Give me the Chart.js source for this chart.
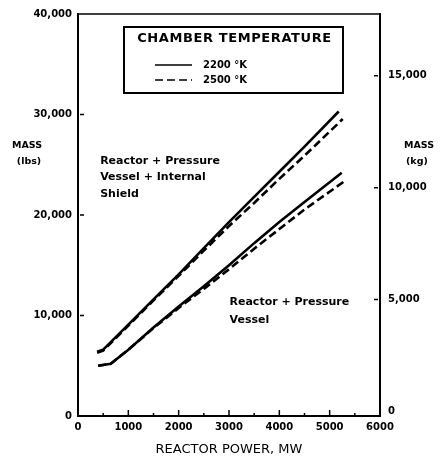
<!DOCTYPE html>
<html>
<head>
<meta charset="utf-8">
<title>Reactor mass vs reactor power</title>
<script src="https://cdn.jsdelivr.net/npm/chart.js@4.4.1/dist/chart.umd.min.js"></script>
<style>
  html, body { margin: 0; padding: 0; background: #fff; }
  #wrap { width: 447px; height: 458px; }
</style>
</head>
<body>
<div id="wrap"><canvas id="mass-chart" width="447" height="458"></canvas></div>
<script>
const powerTicks = [0, 1000, 2000, 3000, 4000, 5000, 6000];
const lbsTicks = [0, 10000, 20000, 30000, 40000];
const kgTicks = [0, 5000, 10000, 15000];

const tempLabels = ["2200 °K", "2500 °K"];

// Reactor + Pressure Vessel + Internal Shield
const shieldPower2200 = [380, 500, 1000, 1500, 2000, 2500, 3000, 3500, 4000, 4500, 5180];
const shieldMass2200 = [6400, 6600, 9100, 11600, 14100, 16700, 19300, 21800, 24300, 26800, 30300];
const shieldPower2500 = [380, 500, 1000, 1500, 2000, 2500, 3000, 3500, 4000, 4500, 5260];
const shieldMass2500 = [6300, 6500, 9000, 11500, 13950, 16450, 18900, 21200, 23600, 25900, 29550];

// Reactor + Pressure Vessel
const vesselPower2200 = [400, 650, 1000, 1500, 2000, 2500, 3000, 3500, 4000, 4500, 5240];
const vesselMass2200 = [5000, 5200, 6600, 8800, 10900, 12900, 15000, 17200, 19300, 21300, 24200];
const vesselPower2500 = [400, 650, 1000, 1500, 2000, 2500, 3000, 3500, 4000, 4500, 5320];
const vesselMass2500 = [5000, 5200, 6600, 8750, 10750, 12650, 14600, 16650, 18600, 20550, 23450];

const FONT = "'DejaVu Sans', 'Liberation Sans', sans-serif";
const INK = "#000";

function zip(xs, ys) {
  return xs.map((x, i) => ({ x, y: ys[i] }));
}

function makeSet(label, xs, ys, dashed) {
  return {
    label,
    data: zip(xs, ys),
    borderColor: INK,
    borderWidth: 2.6,
    borderDash: dashed ? [8, 4] : [],
    pointRadius: 0,
    fill: false,
    tension: 0,
  };
}

function fixedTicks(values) {
  return (scale) => {
    scale.ticks = values.map((value) => ({ value }));
  };
}

const decorations = {
  id: "decorations",
  afterDraw(chart) {
    const { ctx, chartArea: area, scales } = chart;
    const x = scales.x;
    const y = scales.y;
    const y2 = scales.y2;
    ctx.save();
    ctx.strokeStyle = INK;
    ctx.fillStyle = INK;

    // top edge of the frame
    ctx.lineWidth = 1.5;
    ctx.beginPath();
    ctx.moveTo(area.left, area.top);
    ctx.lineTo(area.right, area.top);
    ctx.stroke();

    // inward tick marks
    ctx.lineWidth = 1.5;
    ctx.beginPath();
    powerTicks.forEach((v, i) => {
      if (v > 0 && v < 6000) {
        const px = x.getPixelForValue(v);
        ctx.moveTo(px, area.bottom);
        ctx.lineTo(px, area.bottom - 6);
      }
      if (i < powerTicks.length - 1) {
        const mid = x.getPixelForValue((v + powerTicks[i + 1]) / 2);
        ctx.moveTo(mid, area.bottom);
        ctx.lineTo(mid, area.bottom - 3);
      }
    });
    lbsTicks.forEach((v) => {
      if (v > 0 && v < 40000) {
        const py = y.getPixelForValue(v);
        ctx.moveTo(area.left + 2, py);
        ctx.lineTo(area.left + 6, py);
      }
    });
    kgTicks.forEach((v) => {
      if (v > 0) {
        const py = y2.getPixelForValue(v);
        ctx.moveTo(area.right - 2, py);
        ctx.lineTo(area.right - 6, py);
      }
    });
    ctx.stroke();

    // horizontal axis titles
    ctx.font = `bold 9.5px ${FONT}`;
    ctx.textBaseline = "middle";
    ctx.textAlign = "center";
    ctx.fillText("MASS", 27, 146);
    ctx.fillText("(lbs)", 29, 162);
    ctx.textAlign = "left";
    ctx.fillText("MASS", 404, 146);
    ctx.fillText("(kg)", 406, 162);

    // curve labels
    ctx.font = `bold 11px ${FONT}`;
    const upper = ["Reactor + Pressure", "Vessel + Internal", "Shield"];
    const ux = x.getPixelForValue(440);
    const uy = y.getPixelForValue(25400);
    upper.forEach((line, i) => ctx.fillText(line, ux, uy + i * 16.5));
    const lower = ["Reactor + Pressure", "Vessel"];
    const lx = x.getPixelForValue(3010);
    const ly = y.getPixelForValue(11300);
    lower.forEach((line, i) => ctx.fillText(line, lx, ly + i * 18));

    // legend box
    const box = { x: area.left + 46, y: area.top + 13, w: 219, h: 66 };
    ctx.lineWidth = 2;
    ctx.strokeRect(box.x, box.y, box.w, box.h);
    ctx.font = `bold 13px ${FONT}`;
    ctx.textAlign = "center";
    if ("letterSpacing" in ctx) ctx.letterSpacing = "0.6px";
    ctx.fillText("CHAMBER TEMPERATURE", box.x + box.w / 2 + 1, box.y + 12);
    if ("letterSpacing" in ctx) ctx.letterSpacing = "0px";
    ctx.font = `bold 10px ${FONT}`;
    ctx.textAlign = "left";
    tempLabels.forEach((label, i) => {
      const ds = chart.data.datasets[i];
      const ry = box.y + 38 + i * 15;
      ctx.lineWidth = 1.6;
      ctx.setLineDash(ds.borderDash);
      ctx.beginPath();
      ctx.moveTo(box.x + 31, ry);
      ctx.lineTo(box.x + 68, ry);
      ctx.stroke();
      ctx.setLineDash([]);
      ctx.fillText(label, box.x + 79, ry);
    });

    ctx.restore();
  },
};

const tickFont = { family: FONT, size: 10, weight: "bold" };

new Chart(document.getElementById("mass-chart"), {
  type: "line",
  data: {
    datasets: [
      makeSet("Reactor + Pressure Vessel + Internal Shield, 2200 °K", shieldPower2200, shieldMass2200, false),
      makeSet("Reactor + Pressure Vessel + Internal Shield, 2500 °K", shieldPower2500, shieldMass2500, true),
      makeSet("Reactor + Pressure Vessel, 2200 °K", vesselPower2200, vesselMass2200, false),
      makeSet("Reactor + Pressure Vessel, 2500 °K", vesselPower2500, vesselMass2500, true),
    ],
  },
  options: {
    responsive: false,
    animation: false,
    devicePixelRatio: 1,
    layout: { padding: { top: 10, left: 0, right: 0, bottom: 0 } },
    plugins: {
      legend: { display: false },
      tooltip: { enabled: false },
    },
    scales: {
      x: {
        type: "linear",
        min: 0,
        max: 6000,
        afterBuildTicks: fixedTicks(powerTicks),
        afterFit: (scale) => { scale.height = 42; },
        grid: { display: false, drawTicks: false },
        border: { display: true, color: INK, width: 2 },
        ticks: {
          color: INK,
          font: tickFont,
          padding: 5,
          maxRotation: 0,
          callback: (value) => String(value),
        },
        title: {
          display: true,
          text: "REACTOR POWER, MW",
          color: INK,
          font: { family: FONT, size: 13 },
          padding: { top: 0, bottom: 1 },
        },
      },
      y: {
        type: "linear",
        position: "left",
        min: 0,
        max: 40000,
        afterBuildTicks: fixedTicks(lbsTicks),
        afterFit: (scale) => { scale.width = 78; },
        grid: { display: false, drawTicks: false },
        border: { display: true, color: INK, width: 2 },
        ticks: {
          color: INK,
          font: tickFont,
          padding: 6,
          callback: (value) => value.toLocaleString("en-US"),
        },
      },
      y2: {
        type: "linear",
        position: "right",
        min: -200,
        max: 17760,
        afterBuildTicks: fixedTicks(kgTicks),
        afterFit: (scale) => { scale.width = 67; },
        grid: { display: false, drawTicks: false },
        border: { display: true, color: INK, width: 2 },
        ticks: {
          color: INK,
          font: tickFont,
          padding: 8,
          callback: (value) => value.toLocaleString("en-US"),
        },
      },
    },
  },
  plugins: [decorations],
});
</script>
</body>
</html>
